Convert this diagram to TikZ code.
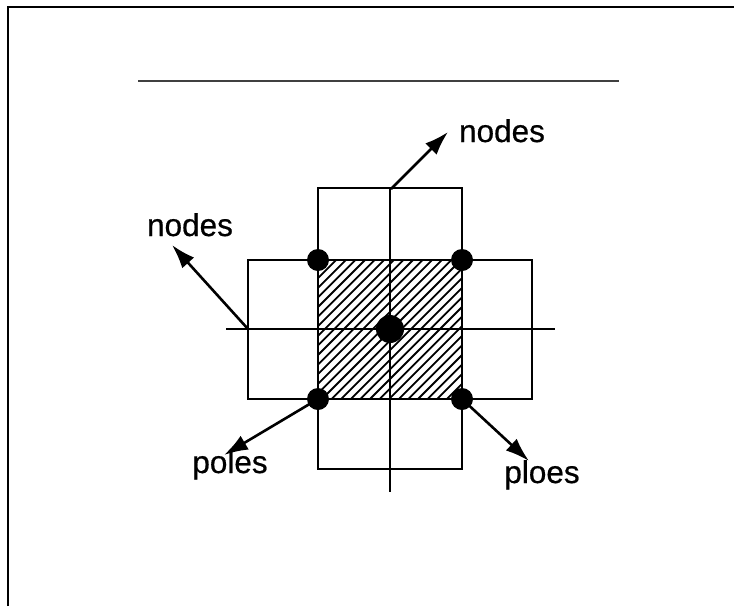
\documentclass[tikz,border=0pt]{standalone}
\usepackage{fontspec}
\setmainfont[FakeBold=0.6,AutoFakeBold=0.6]{Liberation Sans}
\usetikzlibrary{arrows.meta}
\begin{document}
\begin{tikzpicture}[x=1pt,y=-1pt,
  gridline/.style={line width=2pt,black},
  pointer/.style={line width=2.6pt,black,-{Latex[length=24pt,width=16pt]}},
  pole/.style={circle,fill=black,inner sep=0pt,minimum size=22pt},
  centre/.style={circle,fill=black,inner sep=0pt,minimum size=28pt},
  tag/.style={font=\fontsize{31.5}{34}\selectfont\bfseries,inner sep=0pt,anchor=base}]
\useasboundingbox (0,0) rectangle (734,606);
\fill[white] (0,0) rectangle (734,606);
% partial frame
\draw[line width=2.4pt] (8,606) -- (8,7) -- (734,7);
% rule above the sketch
\draw[line width=2.4pt,black!75] (138,81) -- (619,81);
% hatched central cell
\begin{scope}
  \clip (318,260) rectangle (462,399);
  \foreach \k in {0,...,30}
    \draw[line width=1.8pt] ({318-140+\k*9.6},399) -- ++(140,-140);
\end{scope}
% cross of cells
\draw[gridline] (318,188) rectangle (462,469);
\draw[gridline] (248,260) rectangle (532,399);
\draw[gridline] (318,260) rectangle (462,399);
\draw[gridline] (226,329) -- (555,329);
\draw[gridline] (390,188) -- (390,492);
% poles and centre
\node[pole] (tl) at (318,260) {};
\node[pole] (tr) at (462,260) {};
\node[pole] (bl) at (318,399) {};
\node[pole] (br) at (462,399) {};
\node[centre] (c) at (390,329) {};
\coordinate (top) at (391,189);
\coordinate (left) at (248,329);
% labels
\node[tag] (ntop) at (502,142) {nodes};
\node[tag] (nleft) at (190,236) {nodes};
\node[tag] (npl) at (230,473) {poles};
\node[tag] (npr) at (542,483) {ploes};
\coordinate (atop) at (448,132);
\coordinate (aleft) at (172,245);
\coordinate (apl) at (224,455);
\coordinate (apr) at (529,461);
% pointers
\draw[pointer] (top) -- (atop);
\draw[pointer] (left) -- (aleft);
\draw[pointer] (bl.center) -- (apl);
\draw[pointer] (br.center) -- (apr);
\end{tikzpicture}
\end{document}
